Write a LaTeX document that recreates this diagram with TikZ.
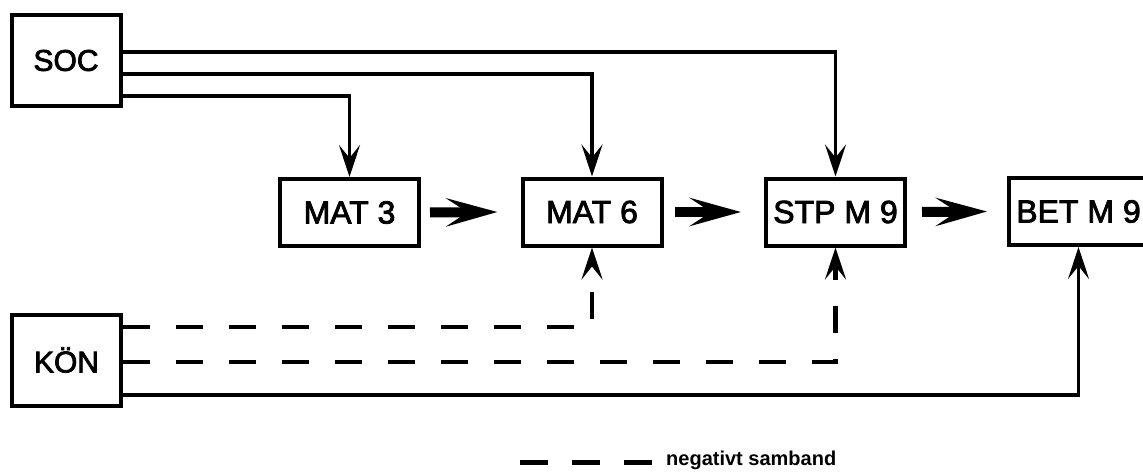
\documentclass[tikz,border=0pt]{standalone}
\usepackage{fontspec}
\setmainfont{Liberation Sans}
\newfontfamily\lblfont[FakeBold=2.5]{Liberation Sans}
\usetikzlibrary{arrows.meta}
\tikzset{
  box/.style={draw, line width=4pt, minimum width=139pt, minimum height=67pt, inner sep=0pt, font=\lblfont\fontsize{32}{36}\selectfont},
  srcbox/.style={draw, line width=4pt, minimum width=109pt, minimum height=91pt, inner sep=0pt, font=\lblfont\fontsize{30}{34}\selectfont},
  conn/.style={line width=3.6pt, -{Stealth[length=32pt,width=21pt,inset=13pt]}},
  dconn/.style={conn, line width=4.5pt, dash pattern=on 27pt off 26pt},
  bigarrow/.style={line width=10pt, -{Stealth[length=51pt,width=28pt,inset=21pt]}},
}
\begin{document}
\begin{tikzpicture}[x=1pt,y=-1pt]
\fill[white] (0,0) rectangle (1143,476);
\useasboundingbox (0,0) rectangle (1143,476);
\clip (0,0) rectangle (1143,476);
\node[srcbox] (SOC) at (66,60.5) {SOC};
\node[srcbox] (KON) at (66.5,360) {KÖN};
\node[box] (MAT3) at (349.5,212.5) {MAT 3};
\node[box] (MAT6) at (592,212) {MAT 6};
\node[box] (STP) at (835.5,212) {STP M 9};
\node[box] (BET) at (1078.5,211.5) {BET M 9};
% SOC connectors
\draw[conn] ([yshift=8.5pt]SOC.east) -| (STP.north);
\draw[conn] ([yshift=-13.5pt]SOC.east) -| (MAT6.north);
\draw[conn] ([yshift=-35.5pt]SOC.east) -| (MAT3.north);
% KON connectors
\draw[dconn] ([yshift=33pt]KON.east) -| (MAT6.south);
\draw[dconn] ([yshift=-2pt]KON.east) -| (STP.south);
\draw[conn] ([yshift=-35pt]KON.east) -| (BET.south);
% chain
\draw[bigarrow] ([xshift=9pt]MAT3.east) -- ([xshift=-23pt]MAT6.west);
\draw[bigarrow] ([xshift=11pt]MAT6.east) -- ([xshift=-23pt]STP.west);
\draw[bigarrow] ([xshift=15pt]STP.east) -- ([xshift=-20pt]BET.west);
% legend
\node[anchor=west, inner sep=0pt, font=\bfseries\fontsize{20}{24}\selectfont] (leg) at (666,460) {negativt samband};
\coordinate (legs) at (520,462);
\draw[line width=5pt, dash pattern=on 28pt off 24pt] (legs) -- (legs -| leg.west);
\end{tikzpicture}
\end{document}
